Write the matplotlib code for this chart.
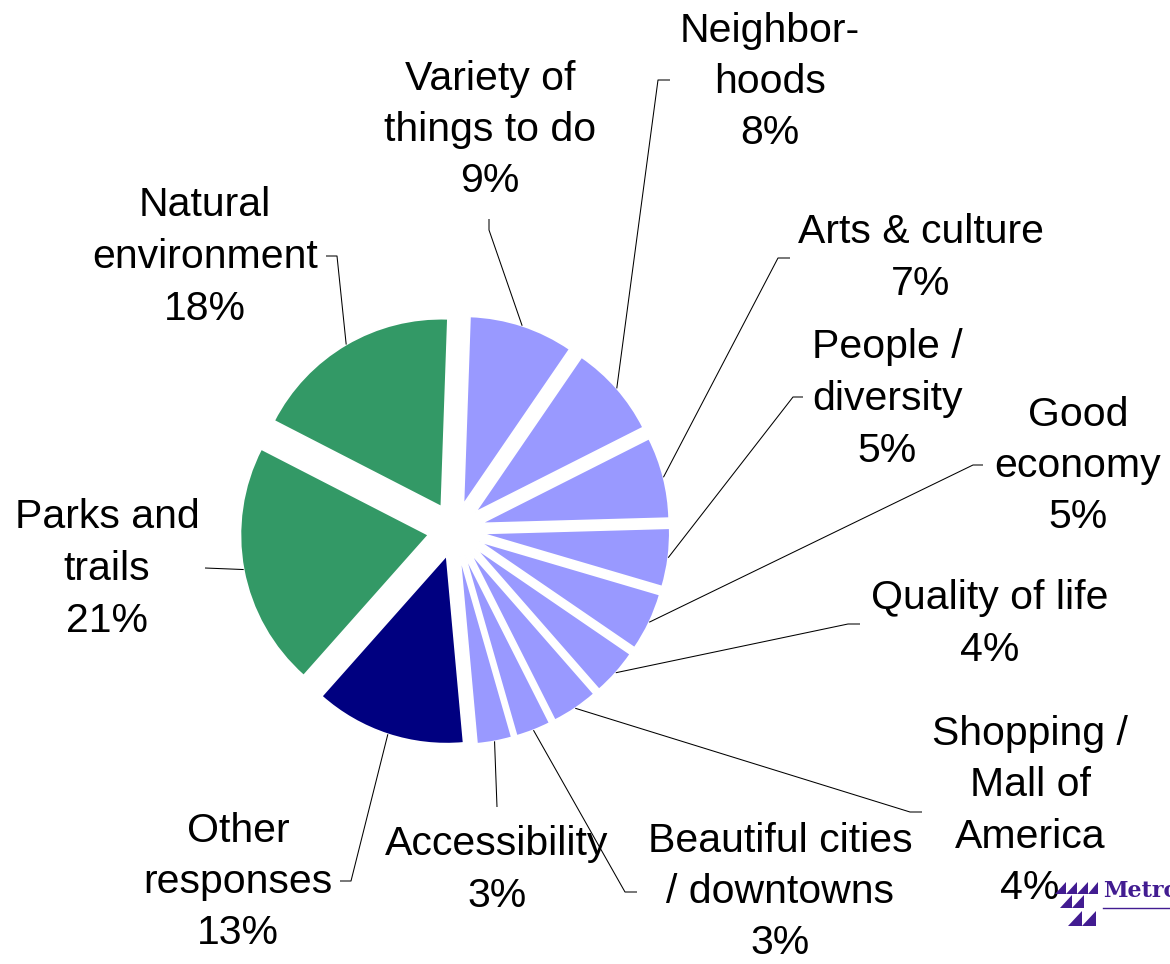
import math

import matplotlib.pyplot as plt
from matplotlib.patches import Polygon

W, H = 1170, 964

# survey answers, clockwise from 12 o'clock
labels = [
    'Variety of\nthings to do',
    'Neighbor-\nhoods',
    'Arts & culture',
    'People /\ndiversity',
    'Good\neconomy',
    'Quality of life',
    'Shopping /\nMall of\nAmerica',
    'Beautiful cities\n/ downtowns',
    'Accessibility',
    'Other\nresponses',
    'Parks and\ntrails',
    'Natural\nenvironment',
]
shares = [9, 8, 7, 5, 5, 4, 4, 3, 3, 13, 21, 18]
kinds = ['place'] * 9 + ['other', 'nature', 'nature']

COLORS = {'place': '#9999FF', 'other': '#000080', 'nature': '#339966'}

# label block centres and leader elbow / end points (image pixels, y down)
label_pos = [
    (490, 130), (770, 82), (921, 258), (887, 399), (1078, 466), (990, 624),
    (1030, 811), (780, 892), (497, 870), (238, 882), (107, 569), (205, 257),
]
leader_pts = [
    [(489, 230), (489, 219)],
    [(658, 80), (670, 80)],
    [(778, 258), (790, 258)],
    [(793, 397), (803, 397)],
    [(973, 465), (983, 465)],
    [(848, 624), (860, 624)],
    [(910, 812), (922, 812)],
    [(625, 892), (637, 892)],
    [(497, 807)],
    [(351, 881), (340, 881)],
    [(205, 568)],
    [(337, 256), (326, 256)],
]

FONT = 'Liberation Sans'


def fy(y):
    return H - y


fig = plt.figure(figsize=(W / 100, H / 100), dpi=100)
fig.patch.set_facecolor('white')
ax = fig.add_axes([0, 0, 1, 1])

R = 188
wedges, _ = ax.pie(
    shares,
    colors=[COLORS[k] for k in kinds],
    explode=[27] * len(shares),
    startangle=88,
    counterclock=False,
    radius=R,
    center=(455, fy(530)),
    wedgeprops=dict(edgecolor='white', linewidth=1.2),
)

ax.set_xlim(0, W)
ax.set_ylim(0, H)
ax.set_aspect('equal')
ax.axis('off')

for w, lab, val, pos, pts in zip(wedges, labels, shares, label_pos, leader_pts):
    mid = math.radians((w.theta1 + w.theta2) / 2)
    cx, cy = w.center
    xs = [cx + w.r * math.cos(mid)] + [p[0] for p in pts]
    ys = [cy + w.r * math.sin(mid)] + [fy(p[1]) for p in pts]
    ax.plot(xs, ys, color='black', lw=0.75, solid_capstyle='butt')
    ax.text(pos[0], fy(pos[1]), f'{lab}\n{val}%', ha='center', va='center',
            fontsize=29.5, family=FONT, linespacing=1.45, color='black')

# Metro logo, cut off at the right edge
LOGO = '#421C91'
tris = [
    (1055, 894, 11, 12), (1066, 894, 11, 12), (1077, 894, 11, 12), (1088, 894, 10, 12),
    (1060, 908, 12, 13), (1072, 908, 12, 13),
    (1068, 926, 14, 15), (1082, 926, 14, 15),
]
for x0, yb, tw, th in tris:
    ax.add_patch(Polygon([(x0, fy(yb)), (x0 + tw, fy(yb)), (x0 + tw, fy(yb - th))],
                         closed=True, facecolor=LOGO, edgecolor='none', zorder=5))
ax.text(1103, fy(897), 'Metro', ha='left', va='baseline', fontsize=16,
        family='DejaVu Serif', fontweight='bold', color=LOGO, zorder=5)
ax.plot([1103, 1170], [fy(908), fy(908)], color=LOGO, lw=1.0, zorder=5)

fig.savefig('out.png', dpi=100, facecolor='white')
